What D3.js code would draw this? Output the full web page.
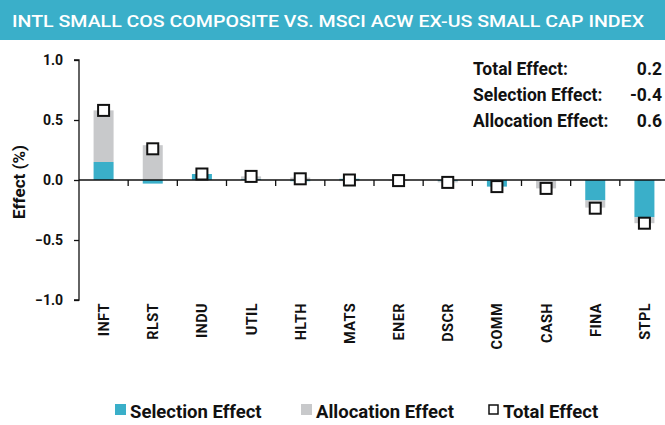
<!DOCTYPE html>
<html>
<head>
<meta charset="utf-8">
<script src="https://cdn.jsdelivr.net/npm/d3@7"></script>
<style>
  body { margin: 0; background: #fff; }
  text { font-family: Roboto, "DejaVu Sans", sans-serif; fill: #111; }
</style>
</head>
<body>
<div id="chart"></div>
<script>
// sectors, left to right
var sectors = ["INFT", "RLST", "INDU", "UTIL", "HLTH", "MATS", "ENER", "DSCR", "COMM", "CASH", "FINA", "STPL"];
// effects (%)
var selection  = [0.15, -0.03, 0.05, 0.01, -0.01, 0.01, 0.00, -0.01, -0.055, 0.00, -0.17, -0.31];
var allocation = [0.43, 0.29, 0.00, 0.02, 0.02, -0.01, -0.005, -0.01, 0.00, -0.07, -0.06, -0.05];
var total      = [0.58, 0.26, 0.05, 0.03, 0.01, 0.00, -0.005, -0.02, -0.055, -0.07, -0.235, -0.36];
var yTicks = [-1.0, -0.5, 0.0, 0.5, 1.0];
var summaryLabels = ["Total Effect:", "Selection Effect:", "Allocation Effect:"];
var summaryValues = ["0.2", "-0.4", "0.6"];
var legendLabels = ["Selection Effect", "Allocation Effect", "Total Effect"];

var W = 665, H = 425;
var cyan = "#3aafc9", grey = "#c8c9cb";

var svg = d3.select("#chart").append("svg")
  .attr("width", W).attr("height", H);

// header band
svg.append("rect").attr("x", 0).attr("y", 0).attr("width", W).attr("height", 40).attr("fill", cyan);
svg.append("text")
  .attr("x", 12).attr("y", 27)
  .attr("textLength", 632).attr("lengthAdjust", "spacingAndGlyphs")
  .style("font-size", "16.5px").style("font-weight", 500).style("fill", "#fff")
  .text("INTL SMALL COS COMPOSITE VS. MSCI ACW EX-US SMALL CAP INDEX");

var x = d3.scaleBand().domain(sectors).range([79, 669]).padding(0);
var y = d3.scaleLinear().domain([-1, 1]).range([300, 60]);
var barW = 20;

// stacked data, positives and negatives stacked apart
var rows = sectors.map(function(s, i) {
  return {sector: s, selection: selection[i], allocation: allocation[i]};
});
var series = d3.stack().keys(["selection", "allocation"]).offset(d3.stackOffsetDiverging)(rows);
var colors = {selection: cyan, allocation: grey};

series.forEach(function(ser) {
  svg.append("g").selectAll("rect")
    .data(ser)
    .enter()
    .append("rect")
      .attr("x", function(d) { return x(d.data.sector) + x.bandwidth() / 2 - barW / 2; })
      .attr("y", function(d) { return y(Math.max(d[0], d[1])); })
      .attr("width", barW)
      .attr("height", function(d) { return Math.abs(y(d[0]) - y(d[1])); })
      .attr("fill", colors[ser.key]);
});

// y axis
var yAxis = svg.append("g")
  .attr("transform", "translate(79,0)")
  .call(d3.axisLeft(y).tickValues(yTicks).tickSize(5).tickFormat(d3.format(".1f")));
yAxis.select(".domain").attr("d", "M-5,60H0V300H-5").attr("stroke", "#111").attr("stroke-width", 1.3);
yAxis.selectAll(".tick line").attr("stroke", "#111").attr("stroke-width", 1.3);
yAxis.selectAll(".tick text")
  .attr("x", -16)
  .style("font-size", "14px").style("font-weight", 700)
  .style("font-family", "Roboto, sans-serif").attr("fill", "#111");

// zero line with ticks between sectors
svg.append("line")
  .attr("x1", 79).attr("x2", W).attr("y1", y(0)).attr("y2", y(0))
  .attr("stroke", "#111").attr("stroke-width", 1.3);
svg.append("g").selectAll("line")
  .data(sectors.slice(1))
  .enter()
  .append("line")
    .attr("x1", function(d) { return x(d); })
    .attr("x2", function(d) { return x(d); })
    .attr("y1", y(0)).attr("y2", y(0) + 6)
    .attr("stroke", "#111").attr("stroke-width", 1.3);

// sector labels below the plot
svg.append("g").selectAll("text")
  .data(sectors)
  .enter()
  .append("text")
    .attr("transform", function(d) {
      return "translate(" + (x(d) + x.bandwidth() / 2 + 5.5) + ",303) rotate(-90)";
    })
    .attr("text-anchor", "end")
    .style("font-size", "14.5px").style("font-weight", 700)
    .style("letter-spacing", "0.4px")
    .text(function(d) { return d; });

// total markers
svg.append("g").selectAll("rect")
  .data(total)
  .enter()
  .append("rect")
    .attr("x", function(d, i) { return x(sectors[i]) + x.bandwidth() / 2 - 5.5; })
    .attr("y", function(d) { return y(d) - 5.5; })
    .attr("width", 11).attr("height", 11)
    .attr("fill", "#fff").attr("stroke", "#111").attr("stroke-width", 2);

// y label
svg.append("text")
  .attr("transform", "translate(25,182) rotate(-90)")
  .attr("text-anchor", "middle")
  .style("font-size", "17px").style("font-weight", 700)
  .text("Effect (%)");

// summary box
summaryLabels.forEach(function(t, i) {
  svg.append("text")
    .attr("x", 473).attr("y", 75 + i * 25.8)
    .style("font-size", "17.5px").style("font-weight", 700)
    .text(t);
  svg.append("text")
    .attr("x", 662).attr("y", 75 + i * 25.8)
    .attr("text-anchor", "end")
    .style("font-size", "17.5px").style("font-weight", 700)
    .text(summaryValues[i]);
});

// legend
var legX = [115, 301, 488];
legendLabels.forEach(function(t, i) {
  if (i < 2) {
    svg.append("rect").attr("x", legX[i]).attr("y", 404).attr("width", 11).attr("height", 11)
      .attr("fill", i == 0 ? cyan : grey);
  } else {
    svg.append("rect").attr("x", legX[i] + 1).attr("y", 405).attr("width", 9).attr("height", 9)
      .attr("fill", "#fff").attr("stroke", "#111").attr("stroke-width", 1.5);
  }
  svg.append("text")
    .attr("x", legX[i] + 15).attr("y", 418)
    .style("font-size", "18.5px").style("font-weight", 700)
    .text(t);
});
</script>
</body>
</html>
